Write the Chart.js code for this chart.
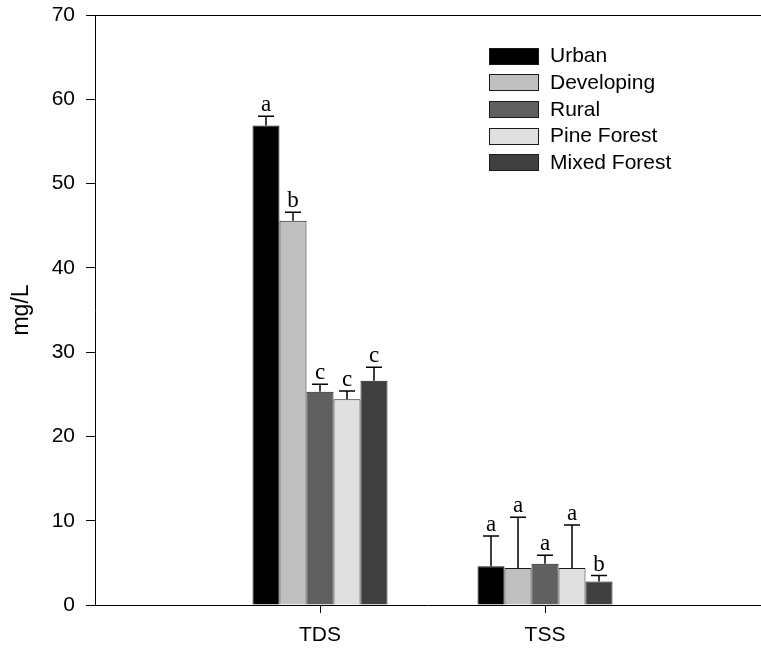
<!DOCTYPE html>
<html>
<head>
<meta charset="utf-8">
<title>TDS and TSS by land use</title>
<script src="https://cdn.jsdelivr.net/npm/chart.js@4/dist/chart.umd.min.js"></script>
<style>
  html, body { margin: 0; padding: 0; background: #fff; }
  #wrap { width: 761px; height: 649px; overflow: hidden; }
</style>
</head>
<body>
<div id="wrap"><canvas id="chart" width="761" height="649"></canvas></div>
<script>
// Parameters on the x axis
const categories = ['TDS', 'TSS'];

// Land-use classes
const seriesNames = ['Urban', 'Developing', 'Rural', 'Pine Forest', 'Mixed Forest'];
const seriesColors = ['#000000', '#c0c0c0', '#606060', '#e0e0e0', '#404040'];

// Mean concentrations (mg/L), one value per parameter
const urbanMeans      = [56.9, 4.6];
const developingMeans = [45.6, 4.4];
const ruralMeans      = [25.3, 4.9];
const pineMeans       = [24.4, 4.4];
const mixedMeans      = [26.6, 2.8];

// Standard errors (upper whisker length, mg/L)
const urbanErr      = [1.1, 3.6];
const developingErr = [1.0, 6.0];
const ruralErr      = [0.9, 1.0];
const pineErr       = [1.0, 5.1];
const mixedErr      = [1.6, 0.7];

// Significance groups printed above each bar
const urbanGroups      = ['a', 'a'];
const developingGroups = ['b', 'a'];
const ruralGroups      = ['c', 'a'];
const pineGroups       = ['c', 'a'];
const mixedGroups      = ['c', 'b'];

// Y axis ticks
const yTickValues = [0, 10, 20, 30, 40, 50, 60, 70];

const allMeans  = [urbanMeans, developingMeans, ruralMeans, pineMeans, mixedMeans];
const allErr    = [urbanErr, developingErr, ruralErr, pineErr, mixedErr];
const allGroups = [urbanGroups, developingGroups, ruralGroups, pineGroups, mixedGroups];

const datasets = seriesNames.map((name, s) => ({
  label: name,
  data: categories.map((c, i) => ({ x: i + 1, y: allMeans[s][i] })),
  errors: allErr[s],
  groups: allGroups[s],
  backgroundColor: seriesColors[s],
  borderColor: '#1a1a1a',
  borderWidth: 1,
  categoryPercentage: 0.6,
  barPercentage: 1.0
}));

// Upper error whiskers and group letters
const errorBarPlugin = {
  id: 'errorBars',
  afterDatasetsDraw(chart) {
    const ctx = chart.ctx;
    const yScale = chart.scales.y;
    ctx.save();
    chart.data.datasets.forEach((ds, di) => {
      const meta = chart.getDatasetMeta(di);
      meta.data.forEach((bar, i) => {
        const mean = ds.data[i].y;
        const capY = yScale.getPixelForValue(mean + ds.errors[i]);
        const x = bar.x;
        ctx.strokeStyle = '#000';
        ctx.lineWidth = 1.5;
        ctx.beginPath();
        ctx.moveTo(x, bar.y);
        ctx.lineTo(x, capY);
        ctx.moveTo(x - 8, capY);
        ctx.lineTo(x + 8, capY);
        ctx.stroke();
        ctx.fillStyle = '#000';
        ctx.font = '23px "Liberation Serif", "Times New Roman", serif';
        ctx.textAlign = 'center';
        ctx.textBaseline = 'alphabetic';
        ctx.fillText(ds.groups[i], x, capY - 5);
      });
    });
    ctx.restore();
  }
};

// Frame top edge and the key in the upper right
const framePlugin = {
  id: 'frameAndKey',
  afterDraw(chart) {
    const ctx = chart.ctx;
    const area = chart.chartArea;
    ctx.save();
    ctx.strokeStyle = '#000';
    ctx.lineWidth = 1;
    ctx.beginPath();
    ctx.moveTo(area.left, Math.round(area.top) + 0.5);
    ctx.lineTo(area.right, Math.round(area.top) + 0.5);
    ctx.stroke();

    const boxX = 489, boxW = 49, boxH = 16;
    const firstRow = 55.5, rowStep = 26.7;
    ctx.font = '21px "Liberation Sans", Arial, sans-serif';
    ctx.textAlign = 'left';
    ctx.textBaseline = 'middle';
    chart.data.datasets.forEach((ds, i) => {
      const cy = firstRow + i * rowStep;
      const top = Math.round(cy - boxH / 2) + 0.5;
      ctx.fillStyle = ds.backgroundColor;
      ctx.fillRect(boxX + 0.5, top, boxW, boxH);
      ctx.strokeStyle = '#1a1a1a';
      ctx.strokeRect(boxX + 0.5, top, boxW, boxH);
      ctx.fillStyle = '#000';
      ctx.fillText(ds.label, 550, cy + 1);
    });
    ctx.restore();
  }
};

const tickFont = { family: '"Liberation Sans", Arial, sans-serif', size: 21 };
const titleFont = { family: '"Liberation Sans", Arial, sans-serif', size: 23 };

new Chart(document.getElementById('chart'), {
  type: 'bar',
  data: { datasets },
  plugins: [errorBarPlugin, framePlugin],
  options: {
    responsive: false,
    animation: false,
    layout: { padding: { top: 15, right: 0, bottom: 0, left: 0 } },
    plugins: {
      legend: { display: false },
      tooltip: { enabled: false }
    },
    scales: {
      x: {
        type: 'linear',
        min: 0,
        max: 2.96,
        offset: false,
        grid: { display: true, offset: false, drawOnChartArea: false, drawTicks: true, tickLength: 8, color: '#000', lineWidth: 1 },
        border: { display: true, color: '#000', width: 1 },
        afterBuildTicks(scale) {
          scale.ticks = categories.map((c, i) => ({ value: i + 1 }));
        },
        ticks: {
          color: '#000',
          font: tickFont,
          padding: 10,
          maxRotation: 0,
          autoSkip: false,
          callback: (v) => categories[v - 1] || ''
        },
        afterFit(scale) {
          scale.height = 44;
          scale.paddingLeft = 0;
          scale.paddingRight = 0;
        }
      },
      y: {
        min: 0,
        max: 70,
        afterBuildTicks(scale) {
          scale.ticks = yTickValues.map(v => ({ value: v }));
        },
        grid: { display: true, drawOnChartArea: false, drawTicks: true, tickLength: 9, color: '#000', lineWidth: 1 },
        border: { display: true, color: '#000', width: 1 },
        ticks: { color: '#000', font: tickFont, padding: 11 },
        title: {
          display: true,
          text: 'mg/L',
          color: '#000',
          font: titleFont,
          padding: { top: 8, bottom: 0 }
        },
        afterFit(scale) {
          scale.width = 95;
          scale.paddingTop = 12;
          scale.paddingBottom = 12;
        }
      }
    }
  }
});
</script>
</body>
</html>
